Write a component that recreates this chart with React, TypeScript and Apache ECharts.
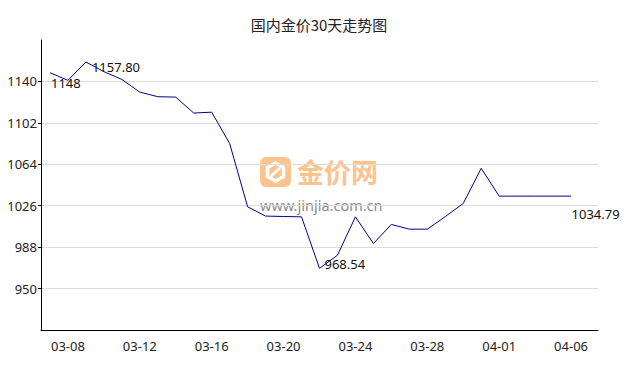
import React, { useEffect, useRef } from "react";
import * as echarts from "echarts";

const categories = [
  "03-07", "03-08", "03-09", "03-10", "03-11", "03-12", "03-13", "03-14", "03-15", "03-16",
  "03-17", "03-18", "03-19", "03-20", "03-21", "03-22", "03-23", "03-24", "03-25", "03-26",
  "03-27", "03-28", "03-29", "03-30", "03-31", "04-01", "04-02", "04-03", "04-05", "04-06", "04-07",
];
const prices: (number | null)[] = [
  1148, 1141, 1157.8, 1149, 1141.8, 1130.2, 1126, 1125.6, 1111, 1111.8,
  1083, 1025, 1016.5, 1016.1, 1015.8, 968.54, 980.6, 1015.8, 991.3, 1008.8,
  1004.5, 1004.5, 1016, 1028.1, 1060.3, 1034.79, 1034.79, 1034.79, 1034.79, 1034.79, null,
];
const yTicks = { min: 912, max: 1178, interval: 38 };
const markedIndices = [0, 2, 15, 29];
const markedTexts = ["1148", "1157.80", "968.54", "1034.79"];
const markedOffsets: [number, number][] = [[1, 4], [6, -1.5], [5, -11], [0.5, 11]];

const FONT = "'Noto Sans', 'Noto Sans CJK SC', sans-serif";
const CJK = "'Noto Sans CJK SC', sans-serif";

export default function App() {
  const ref = useRef<HTMLDivElement>(null);
  useEffect(() => {
    if (!ref.current) return;
    const chart = echarts.init(ref.current, undefined, { renderer: "svg" });
    const orange = "#fbc48f";
    chart.setOption({
      animation: false,
      backgroundColor: "#fff",
      textStyle: { fontFamily: FONT },
      title: {
        text: "国内金价30天走势图",
        left: "center",
        top: 12,
        textStyle: { fontSize: 15, fontWeight: "normal", color: "#222", fontFamily: CJK },
      },
      grid: { left: 41, right: 40, top: 40, bottom: 40, containLabel: false },
      graphic: [
        {
          type: "group",
          left: 260,
          top: 157,
          z: 0,
          silent: true,
          children: [
            { type: "rect", shape: { x: 0, y: 0, width: 31, height: 30, r: 6 }, style: { fill: orange } },
            {
              type: "polygon",
              shape: { points: [[15.5, 6], [23.5, 10.5], [23.5, 19.5], [15.5, 24], [7.5, 19.5], [7.5, 10.5]] },
              style: { fill: "none", stroke: "#fff", lineWidth: 3.5 },
            },
            { type: "line", shape: { x1: 11, y1: 19, x2: 20, y2: 11 }, style: { stroke: "#fff", lineWidth: 3 } },
            {
              type: "text",
              x: 37,
              y: 1,
              style: { text: "金价网", fontSize: 27, fontWeight: "bold", fill: orange, fontFamily: CJK },
            },
            {
              type: "text",
              x: 0,
              y: 41,
              style: { text: "www.jinjia.com.cn", fontSize: 14.5, fill: "#8c8c8c", fontFamily: FONT },
            },
          ],
        },
      ],
      xAxis: {
        type: "category",
        data: categories,
        boundaryGap: true,
        axisLine: { lineStyle: { color: "#000", width: 1 } },
        axisTick: { show: false },
        axisLabel: {
          interval: (index: number) => (index - 1) % 4 === 0 && index < 30,
          color: "#222",
          fontSize: 13,
          margin: 9,
          fontFamily: FONT,
        },
        splitLine: { show: false },
      },
      yAxis: {
        type: "value",
        min: yTicks.min,
        max: yTicks.max,
        interval: yTicks.interval,
        axisLine: { show: true, lineStyle: { color: "#000", width: 1 } },
        axisTick: { show: true, length: 3, lineStyle: { color: "#000" } },
        axisLabel: {
          showMinLabel: false,
          showMaxLabel: false,
          formatter: (v: number) => String(v),
          color: "#222",
          fontSize: 13,
          margin: 4,
          fontFamily: FONT,
        },
        splitLine: { show: true, showMinLine: false, showMaxLine: false, lineStyle: { color: "#dcdcdc", width: 1 } },
      },
      series: [
        {
          type: "line",
          data: prices,
          showSymbol: false,
          symbol: "none",
          z: 5,
          lineStyle: { color: "#00008b", width: 1 },
          markPoint: {
            symbol: "circle",
            symbolSize: 0,
            silent: true,
            data: markedIndices.map((idx, k) => ({
              coord: [categories[idx], prices[idx]],
              value: markedTexts[k],
              label: {
                show: true,
                position: markedOffsets[k],
                formatter: markedTexts[k],
                color: "#111",
                fontSize: 13,
                fontFamily: FONT,
              },
            })),
          },
        },
      ],
    });
    return () => chart.dispose();
  }, []);
  return <div ref={ref} style={{ position: "fixed", left: 0, top: 0, width: 638, height: 370 }} />;
}
